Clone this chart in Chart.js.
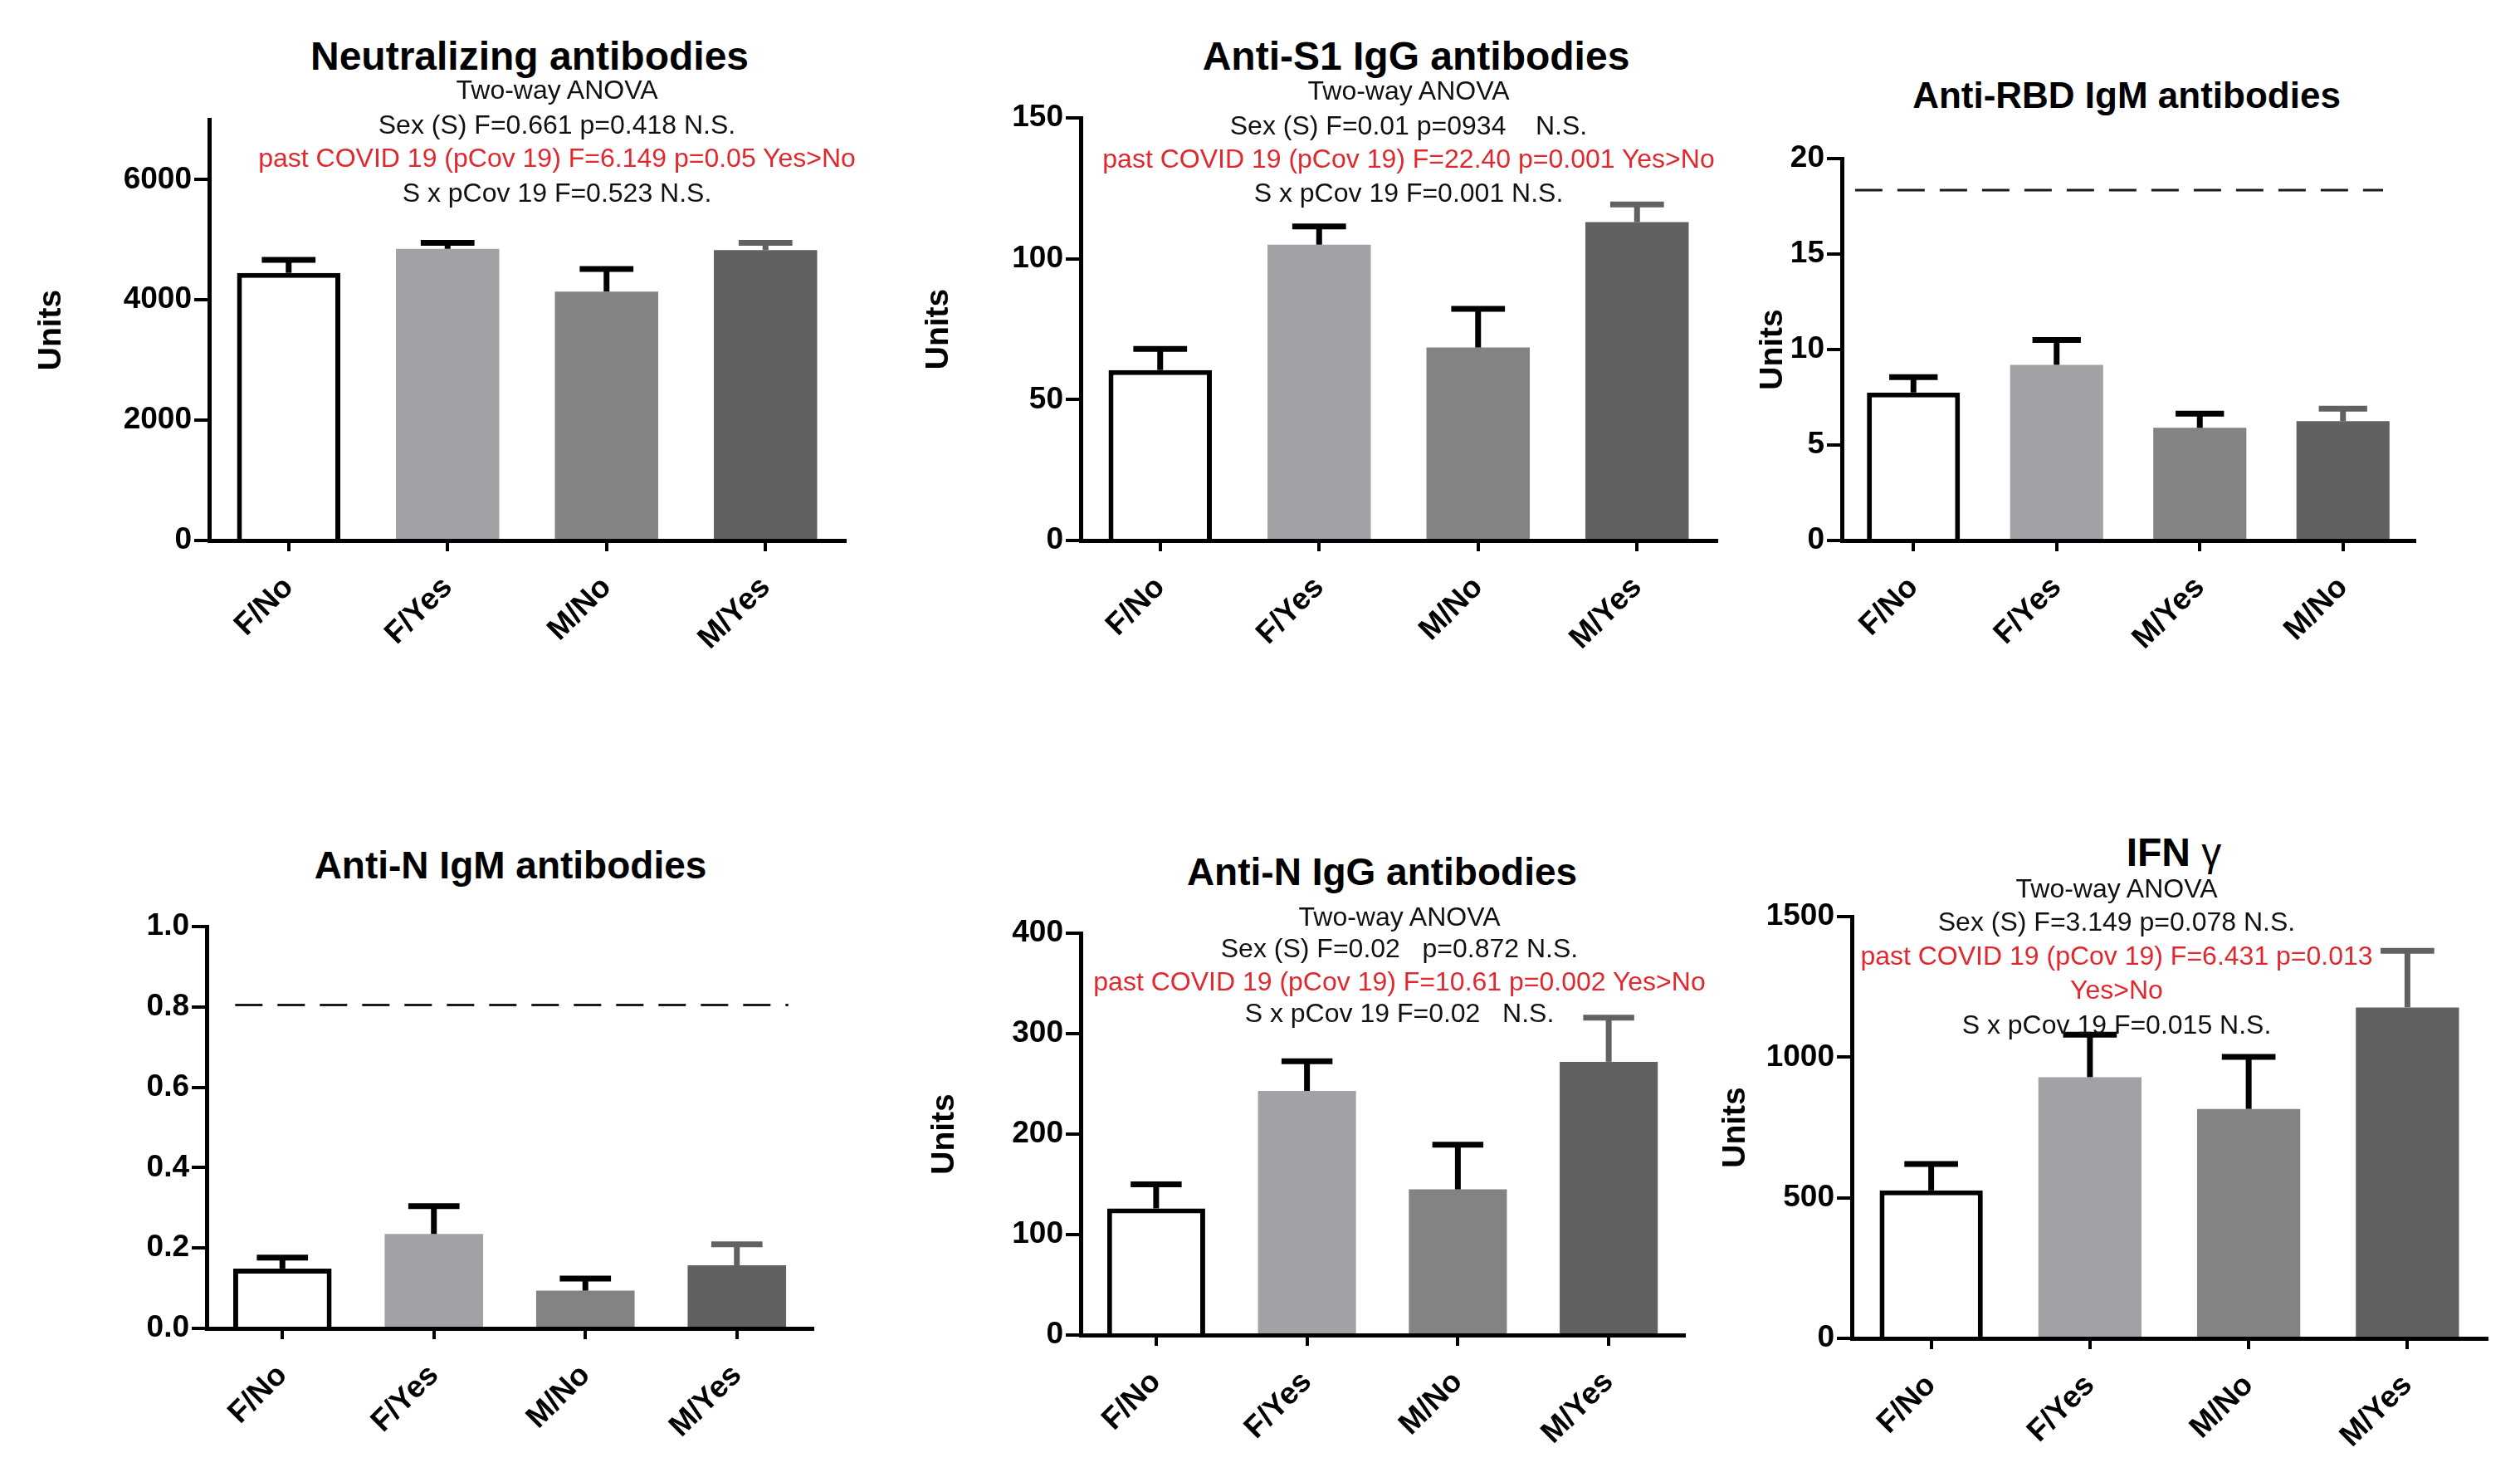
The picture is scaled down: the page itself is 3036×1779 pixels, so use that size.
<!DOCTYPE html>
<html>
<head>
<meta charset="utf-8">
<script src="https://cdn.jsdelivr.net/npm/chart.js@4.4.1/dist/chart.umd.min.js"></script>
<style>
  body { margin: 0; background: #fff; }
  #page { position: relative; width: 3036px; height: 1779px; overflow: hidden; background: #fff; }
  canvas { position: absolute; }
  .txt { position: absolute; transform: translate(-50%, -50%); white-space: nowrap;
         font-family: "Liberation Sans", Arial, sans-serif; color: #111; z-index: 2; }
  .ttl { font-weight: bold; color: #000; }
  .ttl span { font-weight: normal; }
  .red { color: #e0282e; }
</style>
</head>
<body>
<div id="page"></div>
<script>
// categories
const categories = ["F/No", "F/Yes", "M/No", "M/Yes"];
const rbdCategories = ["F/No", "F/Yes", "M/Yes", "M/No"];

// means and SEM (upper error bar)
const neutMeans = [4450, 4850, 4140, 4830];
const neutSem = [215, 100, 375, 120];
const s1Means = [60.5, 105, 68.5, 113];
const s1Sem = [7.5, 6.5, 13.7, 6.3];
const rbdMeans = [7.75, 9.2, 5.9, 6.25];
const rbdSem = [0.8, 1.3, 0.74, 0.65];
const nIgmMeans = [0.149, 0.235, 0.094, 0.157];
const nIgmSem = [0.027, 0.069, 0.03, 0.052];
const nIggMeans = [126, 243, 145, 272];
const nIggSem = [24, 29.5, 44.5, 44];
const ifnMeans = [526, 929, 816, 1177];
const ifnSem = [94, 151, 185, 201];

// cut-off lines
const rbdCutoff = 18.35;
const nIgmCutoff = 0.805;

// y tick labels
const neutTicks = [0, 2000, 4000, 6000];
const s1Ticks = [0, 50, 100, 150];
const rbdTicks = [0, 5, 10, 15, 20];
const nIgmTicks = [0, 0.2, 0.4, 0.6, 0.8, 1.0];
const nIggTicks = [0, 100, 200, 300, 400];
const ifnTicks = [0, 500, 1000, 1500];

// two-way ANOVA notes
const neutAnova = ["Two-way ANOVA", "Sex (S) F=0.661 p=0.418 N.S.", "past COVID 19 (pCov 19) F=6.149 p=0.05 Yes>No", "S x pCov 19 F=0.523 N.S."];
const s1Anova = ["Two-way ANOVA", "Sex (S) F=0.01 p=0934\u00a0\u00a0\u00a0 N.S.", "past COVID 19 (pCov 19) F=22.40 p=0.001 Yes>No", "S x pCov 19 F=0.001 N.S."];
const nIggAnova = ["Two-way ANOVA", "Sex (S) F=0.02\u00a0\u00a0 p=0.872 N.S.", "past COVID 19 (pCov 19) F=10.61 p=0.002 Yes>No", "S x pCov 19 F=0.02\u00a0\u00a0 N.S."];
const ifnAnova = ["Two-way ANOVA", "Sex (S) F=3.149 p=0.078 N.S.", "past COVID 19 (pCov 19) F=6.431 p=0.013", "Yes>No", "S x pCov 19 F=0.015 N.S."];

const barColors = ["#ffffff", "#a2a1a5", "#838383", "#616161"];
const errColors = ["#000000", "#000000", "#000000", "#616161"];
const FONT = '"Liberation Sans", Arial, sans-serif';

const panels = [
  { area: [252, 144, 1018, 651], unitsX: 62, title: ["Neutralizing antibodies", ""], tpos: [638, 67], tsize: 48,
    notes: neutAnova, red: [2], nx: 671, ny: [108, 150, 190, 232],
    labels: categories, means: neutMeans, sem: neutSem, ticks: neutTicks, max: 7000, dec: 0, cutoff: null },
  { area: [1302, 142, 2068, 651], unitsX: 1131, title: ["Anti-S1 IgG antibodies", ""], tpos: [1706, 67], tsize: 48,
    notes: s1Anova, red: [2], nx: 1697, ny: [109, 151, 191, 232],
    labels: categories, means: s1Means, sem: s1Sem, ticks: s1Ticks, max: 150, dec: 0, cutoff: null },
  { area: [2219, 191, 2909, 651], unitsX: 2136, title: ["Anti-RBD IgM antibodies", ""], tpos: [2562, 115], tsize: 44,
    notes: [], red: [], nx: 0, ny: [],
    labels: rbdCategories, means: rbdMeans, sem: rbdSem, ticks: rbdTicks, max: 20, dec: 0,
    cutoff: rbdCutoff, cut: [0.023, 0.945] },
  { area: [249, 1116, 979, 1600], unitsX: null, title: ["Anti-N IgM antibodies", ""], tpos: [615, 1042], tsize: 46,
    notes: [], red: [], nx: 0, ny: [],
    labels: categories, means: nIgmMeans, sem: nIgmSem, ticks: nIgmTicks, max: 1.0, dec: 1,
    cutoff: nIgmCutoff, cut: [0.047, 0.96] },
  { area: [1302, 1124, 2029, 1608], unitsX: 1138, title: ["Anti-N IgG antibodies", ""], tpos: [1665, 1050], tsize: 46,
    notes: nIggAnova, red: [2], nx: 1686, ny: [1104, 1142, 1182, 1220],
    labels: categories, means: nIggMeans, sem: nIggSem, ticks: nIggTicks, max: 400, dec: 0, cutoff: null },
  { area: [2231, 1104, 2996, 1612], unitsX: 2091, title: ["IFN ", "\u03b3"], tpos: [2619, 1026], tsize: 48,
    notes: ifnAnova, red: [2, 3], nx: 2550, ny: [1070, 1110, 1151, 1192, 1234],
    labels: categories, means: ifnMeans, sem: ifnSem, ticks: ifnTicks, max: 1500, dec: 0, cutoff: null },
];

const page = document.getElementById("page");

function addText(cls, text, x, y, size, extra) {
  const d = document.createElement("div");
  d.className = "txt " + cls;
  d.textContent = text;
  if (extra) {
    const s = document.createElement("span");
    s.textContent = extra;
    d.appendChild(s);
  }
  d.style.left = x + "px";
  d.style.top = y + "px";
  d.style.fontSize = size + "px";
  page.appendChild(d);
}

function overlay(p) {
  return {
    id: "overlay",
    afterDatasetsDraw(chart) {
      const { ctx, chartArea, scales: { y } } = chart;
      const meta = chart.getDatasetMeta(0);
      ctx.save();
      ctx.lineCap = "butt";
      meta.data.forEach((bar, i) => {
        const top = y.getPixelForValue(p.means[i] + p.sem[i]);
        const half = bar.width * 0.26;
        ctx.strokeStyle = errColors[i];
        ctx.lineWidth = 7;
        ctx.beginPath();
        ctx.moveTo(bar.x, bar.y);
        ctx.lineTo(bar.x, top);
        ctx.stroke();
        ctx.beginPath();
        ctx.moveTo(bar.x - half, top);
        ctx.lineTo(bar.x + half, top);
        ctx.stroke();
      });
      if (p.cutoff !== null) {
        const w = chartArea.right - chartArea.left;
        const yy = y.getPixelForValue(p.cutoff);
        ctx.strokeStyle = "#1a1a1a";
        ctx.lineWidth = 3;
        ctx.setLineDash([33, 18]);
        ctx.beginPath();
        ctx.moveTo(chartArea.left + p.cut[0] * w, yy);
        ctx.lineTo(chartArea.left + p.cut[1] * w, yy);
        ctx.stroke();
      }
      ctx.restore();
    }
  };
}

panels.forEach((p) => {
  const [l, t, r, b] = p.area;
  const padT = 30, padR = 24, padB = 190;
  const cl = p.unitsX !== null ? p.unitsX - 40 : l - 230;
  const padL = l - cl;
  const cv = document.createElement("canvas");
  const W = padL + (r - l) + padR, H = padT + (b - t) + padB;
  cv.width = W; cv.height = H;
  cv.style.left = cl + "px";
  cv.style.top = (t - padT) + "px";
  cv.style.width = W + "px";
  cv.style.height = H + "px";
  page.appendChild(cv);

  new Chart(cv, {
    type: "bar",
    data: {
      labels: p.labels,
      datasets: [{
        data: p.means,
        backgroundColor: barColors,
        borderColor: "#000000",
        borderWidth: [6, 0, 0, 0],
        borderSkipped: "start",
        barPercentage: 0.65,
        categoryPercentage: 1.0,
      }],
    },
    options: {
      responsive: false,
      animation: false,
      devicePixelRatio: 1,
      layout: { padding: { top: padT, right: padR, left: 0, bottom: 0 } },
      plugins: { legend: { display: false }, tooltip: { enabled: false }, title: { display: false } },
      scales: {
        x: {
          afterFit: (s) => { s.height = padB; },
          grid: { display: true, drawOnChartArea: false, offset: false, tickLength: 13, lineWidth: 4, color: "#000" },
          border: { display: true, color: "#000", width: 5 },
          ticks: { autoSkip: false, minRotation: 45, maxRotation: 45, padding: 22, color: "#000",
                   font: { family: FONT, size: 37, weight: "bold" } },
        },
        y: {
          min: 0,
          max: p.max,
          afterFit: (s) => { s.width = padL; },
          afterBuildTicks: (s) => { s.ticks = p.ticks.map((v) => ({ value: v })); },
          grid: { display: true, drawOnChartArea: false, tickLength: 18, lineWidth: 4, color: "#000" },
          border: { display: true, color: "#000", width: 5 },
          ticks: { padding: 3, color: "#000", font: { family: FONT, size: 37, weight: "bold" },
                   callback: (v) => Number(v).toFixed(p.dec) },
          title: { display: p.unitsX !== null, text: "Units", color: "#000",
                   padding: { top: 17, bottom: 0 }, font: { family: FONT, size: 39, weight: "bold" } },
        },
      },
    },
    plugins: [overlay(p)],
  });

  addText("ttl", p.title[0], p.tpos[0], p.tpos[1], p.tsize, p.title[1]);
  p.notes.forEach((n, i) => {
    addText(p.red.includes(i) ? "red" : "", n, p.nx, p.ny[i], 32);
  });
});
</script>
</body>
</html>
